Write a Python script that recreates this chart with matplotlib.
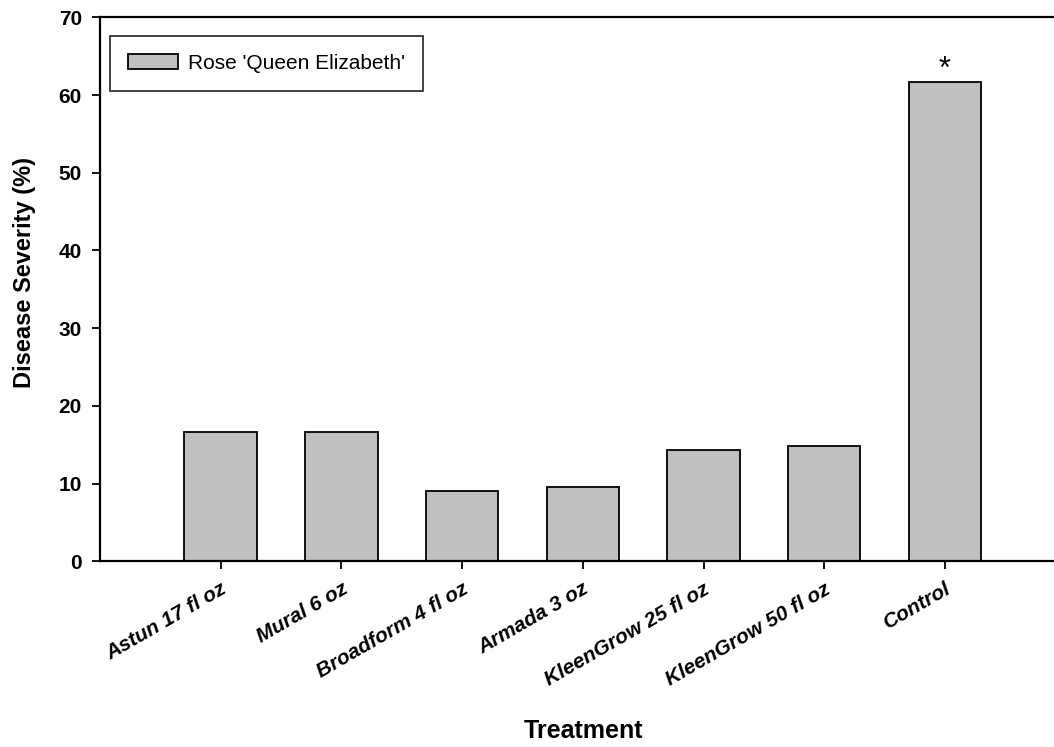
import matplotlib
matplotlib.use("Agg")
import matplotlib.pyplot as plt

plt.rcParams["font.family"] = ["Liberation Sans", "DejaVu Sans"]

treatments = [
    "Astun 17 fl oz",
    "Mural 6 oz",
    "Broadform 4 fl oz",
    "Armada 3 oz",
    "KleenGrow 25 fl oz",
    "KleenGrow 50 fl oz",
    "Control",
]
severity = [16.6, 16.6, 9.1, 9.5, 14.3, 14.9, 61.7]
significant = [False, False, False, False, False, False, True]
series_name = "Rose 'Queen Elizabeth'"

fig = plt.figure(figsize=(10.54, 7.47), dpi=100)
# axes runs past the right edge of the figure, as in the original export
ax = fig.add_axes([100 / 1054, 185.7 / 747, 965.6 / 1054, 544 / 747])

x = list(range(len(treatments)))
ax.bar(x, severity, width=0.6, color="#c0c0c0", edgecolor="black",
       linewidth=1.3, label=series_name)

for xi, val, sig in zip(x, severity, significant):
    if sig:
        ax.text(xi, val - 0.4, "*", ha="center", va="bottom", fontsize=22)

ax.set_xlim(-1, 7)
ax.set_ylim(0, 70)
ax.set_yticks(range(0, 71, 10))
ax.set_xticks(x)
ax.set_xticklabels(treatments, rotation=30, ha="right", rotation_mode="anchor",
                   fontsize=15, fontweight="bold", fontstyle="italic")
for lab in ax.get_yticklabels():
    lab.set_fontsize(15)
    lab.set_fontweight("bold")

ax.tick_params(axis="y", direction="out", length=6, width=1.3, pad=7)
ax.tick_params(axis="x", direction="out", length=6, width=1.3, pad=7)
for side in ["left", "bottom", "top"]:
    ax.spines[side].set_linewidth(1.6)
ax.spines["right"].set_visible(False)

ax.set_ylabel("Disease Severity (%)", fontsize=17, fontweight="bold")
ax.set_xlabel("Treatment", fontsize=18, fontweight="bold")
ax.yaxis.set_label_coords(-0.066, 0.53)
ax.xaxis.set_label_coords(0.501, -0.29)

leg = ax.legend(loc="upper left", bbox_to_anchor=(10 / 965.6, 1 - 19 / 544),
                fontsize=15, frameon=True, fancybox=False, borderpad=0.85,
                handlelength=2.4, handleheight=0.75, handletextpad=0.5,
                borderaxespad=0)
leg.get_frame().set_edgecolor("black")
leg.get_frame().set_linewidth(1.3)

fig.savefig("out.png", dpi=100)
